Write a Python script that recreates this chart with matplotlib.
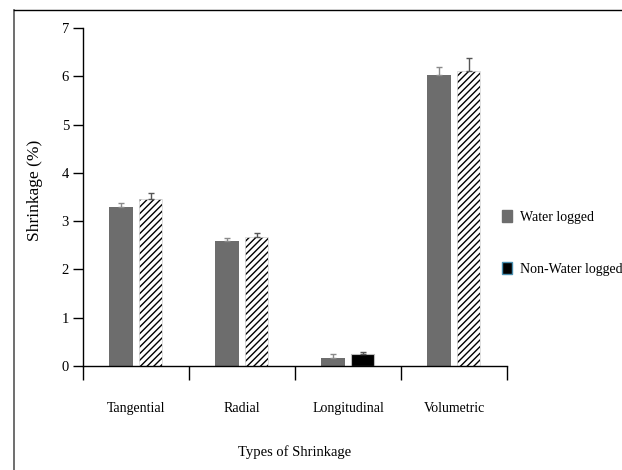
import numpy as np
import matplotlib
matplotlib.use("Agg")
from matplotlib import pyplot as plt
from matplotlib.patches import Patch
from matplotlib.lines import Line2D

categories = ["Tangential", "Radial", "Longitudinal", "Volumetric"]
water_logged = [3.30, 2.58, 0.17, 6.02]
water_err = [0.08, 0.07, 0.07, 0.18]
non_water_logged = [3.46, 2.68, 0.25, 6.12]
non_water_err = [0.12, 0.08, 0.03, 0.26]
yticks = [0, 1, 2, 3, 4, 5, 6, 7]

plt.rcParams["font.family"] = ["Liberation Serif", "DejaVu Serif"]
plt.rcParams["hatch.linewidth"] = 1.0

fig = plt.figure(figsize=(6.22, 4.70), dpi=100)
ax = fig.add_axes([0.1334, 0.2213, 0.8151 - 0.1334, 0.9404 - 0.2213])

x = np.arange(len(categories)) + 0.5
w = 0.225
gap = 0.025

ax.bar(x - w / 2 - gap, water_logged, w, color="#6d6d6d", zorder=2)
ax.errorbar(x - w / 2 - gap, water_logged,
            yerr=[np.zeros(4), water_err], fmt="none",
            ecolor="#8a8a8a", elinewidth=1, capsize=2.5, zorder=3)

# non water logged: hatched, except longitudinal drawn solid black
for i in range(len(categories)):
    xi = x[i] + w / 2 + gap
    if i == 2:
        ax.bar(xi, non_water_logged[i], w, color="black",
               edgecolor="#bbbbbb", linewidth=0.8, zorder=2)
    else:
        ax.bar(xi, non_water_logged[i], w, color="white",
               edgecolor="black", hatch="/////", linewidth=0, zorder=2)
        ax.bar(xi, non_water_logged[i], w, fill=False,
               edgecolor="#d8d8d8", linewidth=0.6, zorder=2)
ax.errorbar(x + w / 2 + gap, non_water_logged,
            yerr=[np.zeros(4), non_water_err], fmt="none",
            ecolor="#555555", elinewidth=1, capsize=2.5, zorder=3)

ax.set_xlim(0, 4)
ax.set_ylim(0, 7)
ax.set_yticks(yticks)
ax.tick_params(axis="y", direction="out", length=7, width=1, labelsize=10.5, pad=3)
ax.set_xticks([0, 1, 2, 3, 4])
ax.set_xticklabels([])
ax.tick_params(axis="x", which="major", direction="out", length=10, width=1)
ax.set_xticks(x, minor=True)
ax.set_xticklabels(categories, minor=True)
ax.tick_params(axis="x", which="minor", length=0, labelsize=10, pad=26)

for s in ["top", "right"]:
    ax.spines[s].set_visible(False)
ax.spines["left"].set_linewidth(1)
ax.spines["bottom"].set_linewidth(1)

ax.set_ylabel("Shrinkage (%)", fontsize=12.5)
ax.yaxis.set_label_coords(-0.095, 0.52)
ax.set_xlabel("Types of Shrinkage", fontsize=10.5)
ax.xaxis.set_label_coords(0.5, -0.235)

handles = [Patch(facecolor="#6d6d6d", edgecolor="#6d6d6d"),
           Patch(facecolor="black", edgecolor="#4a8fb0", linewidth=1)]
fig.legend(handles, ["Water logged", "Non-Water logged"],
           loc="center left", bbox_to_anchor=(0.787, 0.483),
           frameon=False, fontsize=10, handlelength=0.75, handleheight=0.9,
           handletextpad=0.55, labelspacing=2.8)

# outer frame (left and top edges only)
fig.add_artist(Line2D([0.0225, 0.0225], [0, 0.979], color="#555555", linewidth=1.2))
fig.add_artist(Line2D([0.0225, 0.998], [0.979, 0.979], color="black", linewidth=1.0))

plt.savefig("out.png", dpi=100)
